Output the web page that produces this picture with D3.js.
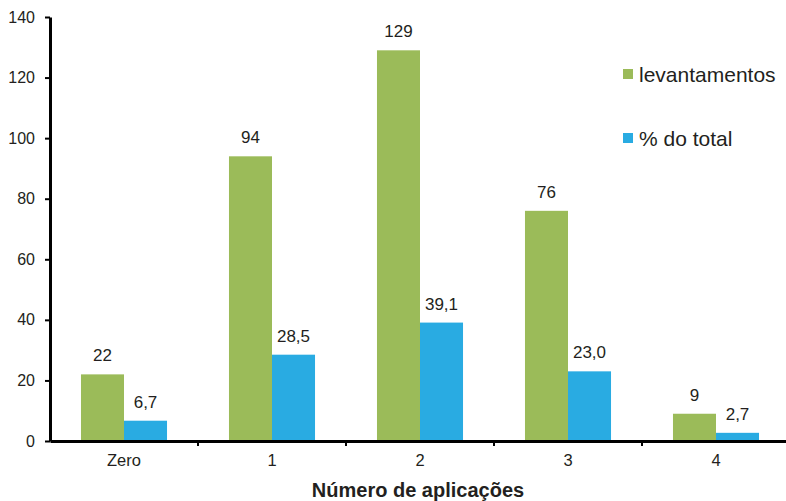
<!DOCTYPE html>
<html>
<head>
<meta charset="utf-8">
<script src="https://cdn.jsdelivr.net/npm/d3@7"></script>
<style>
  body { margin: 0; background: #fff; }
  svg { display: block; font-family: "Liberation Sans", Arial, sans-serif; }
</style>
</head>
<body>
<svg id="chart" width="786" height="501"></svg>
<script>
// Número de aplicações por levantamento
const categories = ["Zero", "1", "2", "3", "4"];
const levantamentos = [22, 94, 129, 76, 9];
const percentTotal = [6.7, 28.5, 39.1, 23.0, 2.7];
const seriesNames = ["levantamentos", "% do total"];
const yTicks = [0, 20, 40, 60, 80, 100, 120, 140];

const colors = { "levantamentos": "#9bbb59", "% do total": "#29abe2" };
const textColor = "#231f20";
const fontFamily = "Liberation Sans, Arial, sans-serif";

const svg = d3.select("#chart");
const margin = { left: 50, right: -4, top: 17, bottom: 60 };
const W = 786, H = 501;

const x = d3.scaleBand().domain(categories).range([margin.left, W - margin.right]);
const y = d3.scaleLinear().domain([0, 140]).range([H - margin.bottom, margin.top]);
const inner = d3.scaleBand().domain(seriesNames)
  .range([0, x.bandwidth()]).paddingInner(0).paddingOuter(0.72);

const rows = categories.map((c, i) => ({
  cat: c,
  vals: [
    { key: "levantamentos", v: levantamentos[i], label: String(levantamentos[i]) },
    { key: "% do total", v: percentTotal[i], label: percentTotal[i].toFixed(1).replace(".", ",") }
  ]
}));

const g = svg.append("g");
const groups = g.selectAll("g.cat").data(rows).join("g")
  .attr("transform", d => `translate(${x(d.cat)},0)`);

groups.selectAll("rect").data(d => d.vals).join("rect")
  .attr("x", d => inner(d.key))
  .attr("width", inner.bandwidth())
  .attr("y", d => y(d.v))
  .attr("height", d => y(0) - y(d.v))
  .attr("fill", d => colors[d.key]);

groups.selectAll("text.val").data(d => d.vals).join("text")
  .attr("class", "val")
  .attr("x", d => inner(d.key) + inner.bandwidth() / 2)
  .attr("y", d => y(d.v) - 13)
  .attr("text-anchor", "middle")
  .attr("font-size", 17)
  .attr("fill", textColor)
  .text(d => d.label);

// Y axis
const yAxis = svg.append("g")
  .attr("transform", `translate(${margin.left},0)`)
  .call(d3.axisLeft(y).tickValues(yTicks).tickSize(5).tickPadding(10).tickSizeOuter(0));
yAxis.select(".domain").attr("stroke", "#000").attr("stroke-width", 3);
yAxis.selectAll(".tick line").attr("stroke", "#000").attr("stroke-width", 2);
yAxis.selectAll(".tick text").attr("font-size", 16).attr("fill", textColor)
  .attr("font-family", fontFamily);

// X axis with ticks at the category boundaries
const xAxis = svg.append("g")
  .attr("transform", `translate(0,${y(0)})`)
  .call(d3.axisBottom(x).tickSize(0).tickPadding(13).tickSizeOuter(0));
xAxis.select(".domain").attr("stroke", "#000").attr("stroke-width", 3);
xAxis.selectAll(".tick text").attr("font-size", 16.5).attr("fill", textColor)
  .attr("font-family", fontFamily);
xAxis.selectAll("line.sep").data(categories.slice(1)).join("line")
  .attr("class", "sep")
  .attr("x1", d => x(d)).attr("x2", d => x(d))
  .attr("y1", 0).attr("y2", 5)
  .attr("stroke", "#000").attr("stroke-width", 2);

// Axis title
svg.append("text")
  .attr("x", (margin.left + W - margin.right) / 2 - 2)
  .attr("y", 497)
  .attr("text-anchor", "middle")
  .attr("font-size", 20)
  .attr("font-weight", "bold")
  .attr("fill", textColor)
  .text("Número de aplicações");

// Legend
const legend = svg.append("g").selectAll("g").data(seriesNames).join("g")
  .attr("transform", (d, i) => `translate(623,${69 + i * 64})`);
legend.append("rect").attr("width", 10).attr("height", 10).attr("fill", d => colors[d]);
legend.append("text")
  .attr("x", 16).attr("y", 13)
  .attr("font-size", 21)
  .attr("fill", textColor)
  .text(d => d);
</script>
</body>
</html>
